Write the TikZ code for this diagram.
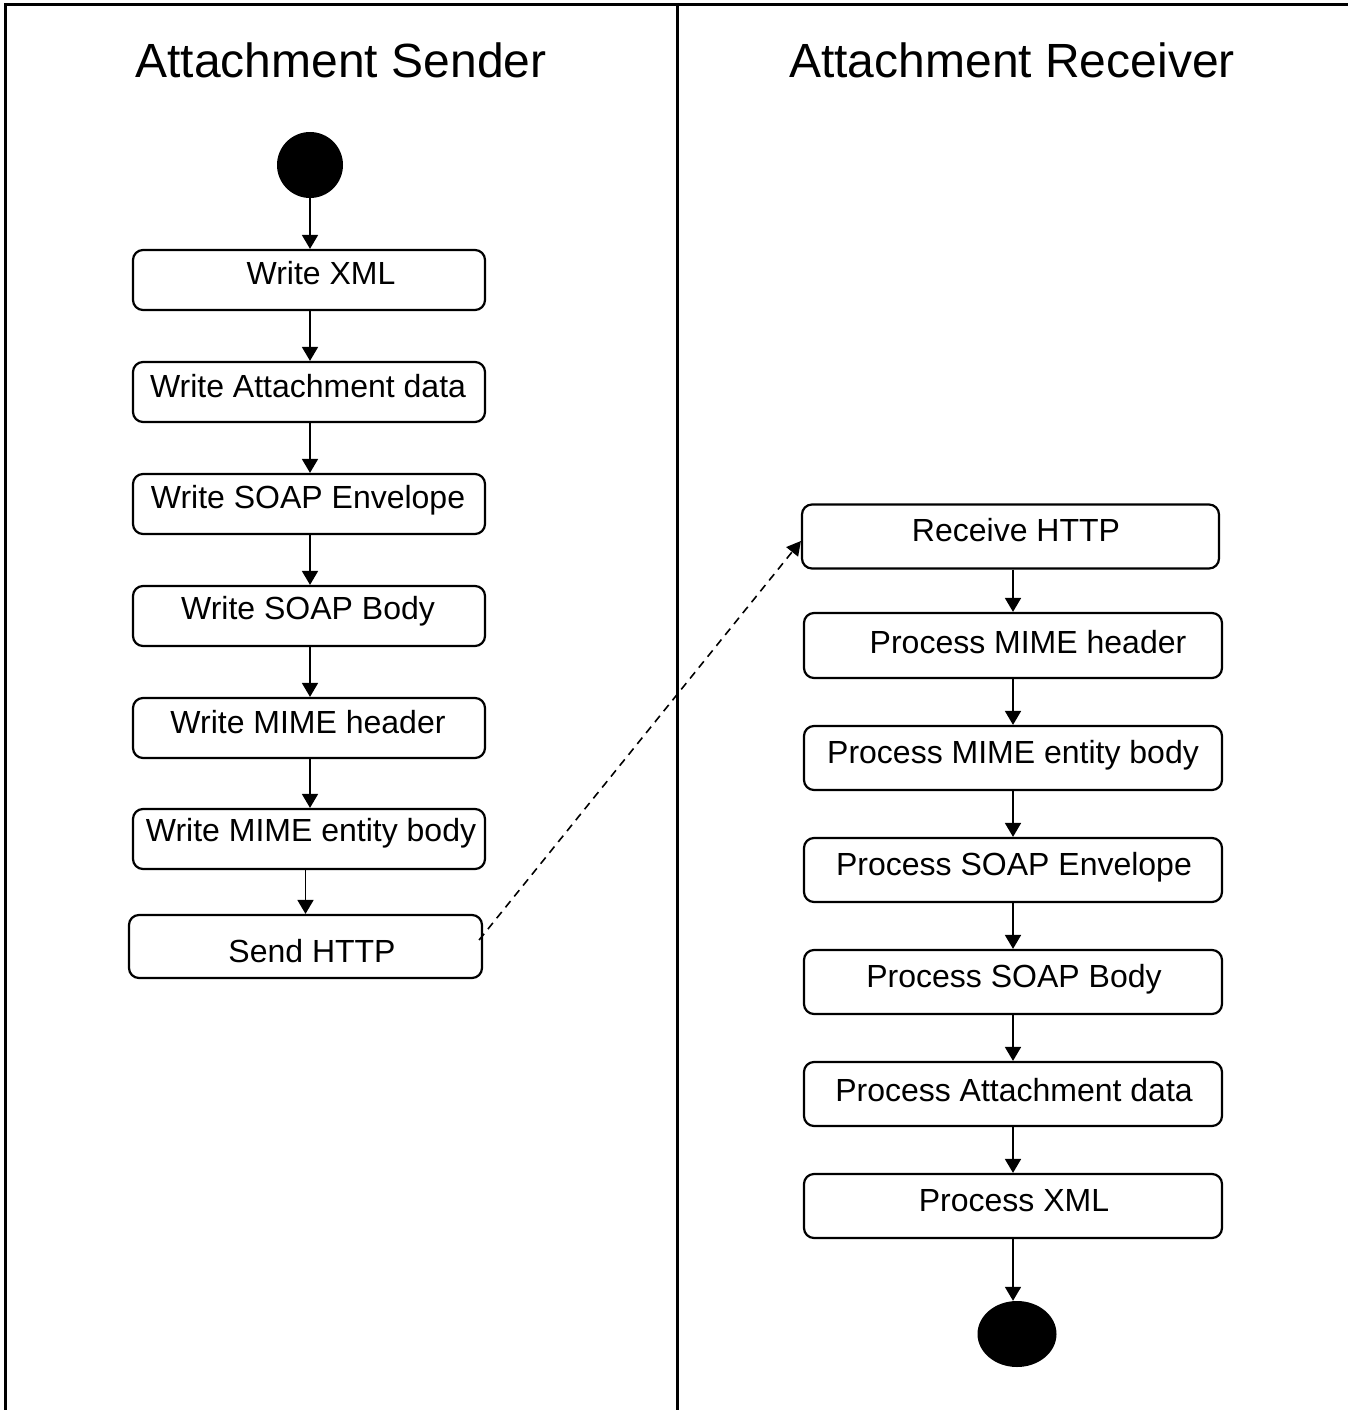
\documentclass[tikz,border=0pt]{standalone}
\usepackage{fontspec}
\setmainfont{Liberation Sans}
\usetikzlibrary{arrows.meta,shapes.geometric}
\begin{document}
\begin{tikzpicture}[x=1pt,y=-1pt,
  box/.style={draw,line width=2.2pt,rounded corners=10pt,inner sep=0pt},
  lbl/.style={inner sep=0pt,font=\fontsize{32}{38}\selectfont},
  ttl/.style={inner sep=0pt,font=\fontsize{48}{56}\selectfont},
  arr/.style={line width=1.8pt,-{Triangle[length=14pt,width=16pt]}},
  darr/.style={line width=1.6pt,dash pattern=on 8pt off 6pt,-{Triangle[length=14pt,width=15pt]}},
  frame/.style={line width=3pt}]
\useasboundingbox (0,0) rectangle (1348,1410);
% frame
\draw[frame] (5,1410) -- (5,5) -- (1348,5);
\draw[frame] (677,5) -- (677,1410);
% titles
\node[ttl] (t1) at (341,60) {Attachment Sender};
\node[ttl] (t2) at (1012,60) {Attachment Receiver};
% sender
\node[circle,fill=black,minimum size=66pt,inner sep=0pt] (start) at (310,165) {};
\node[box,minimum width=352pt,minimum height=60pt] (s1) at (309,280) {};
\node[box,minimum width=352pt,minimum height=60pt] (s2) at (309,392) {};
\node[box,minimum width=352pt,minimum height=60pt] (s3) at (309,504) {};
\node[box,minimum width=352pt,minimum height=60pt] (s4) at (309,616) {};
\node[box,minimum width=352pt,minimum height=60pt] (s5) at (309,728) {};
\node[box,minimum width=352pt,minimum height=60pt] (s6) at (309,839) {};
\node[box,minimum width=353pt,minimum height=63pt] (s7) at (305.5,946.5) {};
\node[lbl] (l1) at (321,273) {Write XML};
\node[lbl] (l2) at (308,386) {Write Attachment data};
\node[lbl] (l3) at (308,500) {Write SOAP Envelope};
\node[lbl] (l4) at (308,611) {Write SOAP Body};
\node[lbl] (l5) at (308,722) {Write MIME header};
\node[lbl] (l6) at (311,833) {Write MIME entity body};
\node[lbl] (l7) at (312,951) {Send HTTP};
\draw[arr] (start.south) -- (start.south |- s1.north);
\draw[arr] ([xshift=1pt]s1.south) -- ([xshift=1pt]s2.north);
\draw[arr] ([xshift=1pt]s2.south) -- ([xshift=1pt]s3.north);
\draw[arr] ([xshift=1pt]s3.south) -- ([xshift=1pt]s4.north);
\draw[arr] ([xshift=1pt]s4.south) -- ([xshift=1pt]s5.north);
\draw[arr] ([xshift=1pt]s5.south) -- ([xshift=1pt]s6.north);
\draw[arr] (s7.north |- s6.south) -- (s7.north);
% receiver
\node[box,minimum width=417pt,minimum height=64pt] (r1) at (1010.5,536.5) {};
\node[box,minimum width=418pt,minimum height=65pt] (r2) at (1013,645.5) {};
\node[box,minimum width=418pt,minimum height=64pt] (r3) at (1013,758) {};
\node[box,minimum width=418pt,minimum height=64pt] (r4) at (1013,870) {};
\node[box,minimum width=418pt,minimum height=64pt] (r5) at (1013,982) {};
\node[box,minimum width=418pt,minimum height=64pt] (r6) at (1013,1094) {};
\node[box,minimum width=418pt,minimum height=64pt] (r7) at (1013,1206) {};
\node[lbl] (m1) at (1016,530) {Receive HTTP};
\node[lbl] (m2) at (1028,642) {Process MIME header};
\node[lbl] (m3) at (1013,755) {Process MIME entity body};
\node[lbl] (m4) at (1014,867) {Process SOAP Envelope};
\node[lbl] (m5) at (1014,979) {Process SOAP Body};
\node[lbl] (m6) at (1014,1090) {Process Attachment data};
\node[lbl] (m7) at (1014,1201) {Process XML};
\node[ellipse,fill=black,minimum width=79pt,minimum height=66pt,inner sep=0pt] (stop) at (1017,1334) {};
\draw[arr] (r2.north |- r1.south) -- (r2.north);
\draw[arr] (r2.south) -- (r3.north);
\draw[arr] (r3.south) -- (r4.north);
\draw[arr] (r4.south) -- (r5.north);
\draw[arr] (r5.south) -- (r6.north);
\draw[arr] (r6.south) -- (r7.north);
\draw[arr] (r7.south) -- (r7.south |- stop.north);
% message
\draw[darr] ([xshift=-4pt,yshift=6.5pt]s7.east) -- ([yshift=-4.5pt]r1.west);
\end{tikzpicture}
\end{document}
